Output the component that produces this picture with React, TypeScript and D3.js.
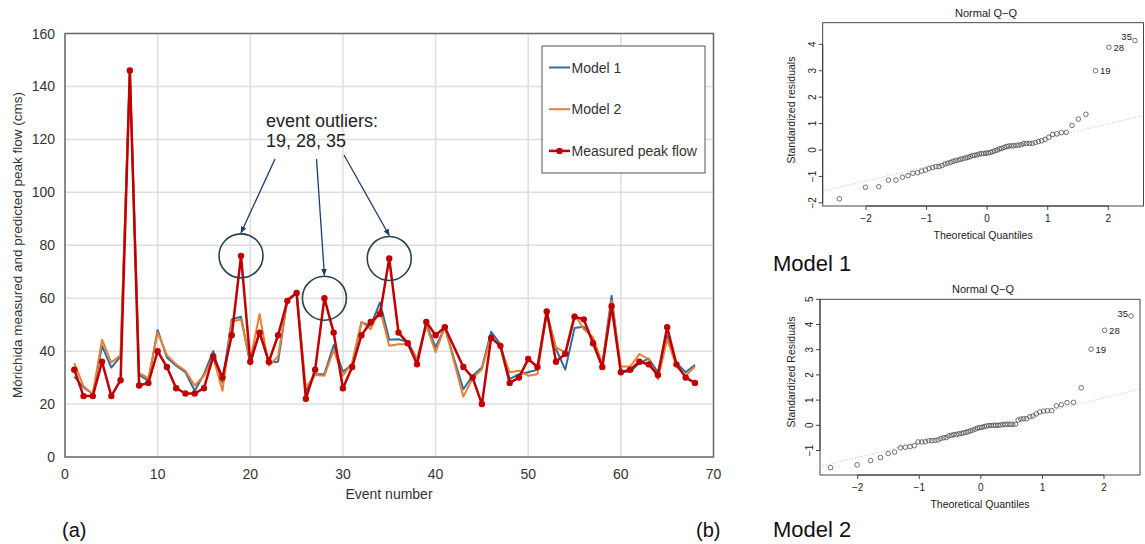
import React from "react";
import * as d3 from "d3";

// ---- Panel (a) data: event peak flows (cms), events 1..68 ----
const measured: (number | null)[] = [33, 23, 23, 36, 23, 29, 146, 27, 28, 40, 34, 26, 24, 24, 26, 38, 30, 46, 76, 36, 47, 36, 46, 59, 62, 22, 33, 60, 47, 26, 34, 46, 51, 54, 75, 47, 43, 35, 51, 46, 49, null, 34, 30, 20, 45, 42, 28, 30, 37, 34, 55, 36, 39, 53, 52, 43, 34, 57, 32, 33, 36, 35, 31, 49, 35, 30, 28];
const model1: number[] = [30.4, 26.3, 23.8, 42, 33.8, 38, 145, 31, 28.8, 48, 37.6, 34.5, 32, 25, 31.3, 40, 28.2, 52, 53, 35, 47.5, 35.7, 36, 59.6, 62, 24.7, 31.3, 31.3, 42.3, 32.2, 35, 50.8, 49.6, 58.4, 44.3, 44.5, 43.5, 37, 50.2, 41.4, 49, 37, 25.6, 30.7, 33.8, 47.3, 42.6, 29.4, 31.3, 32, 33, 54.6, 40.8, 33, 48.7, 49.2, 44.5, 35, 60.9, 32.2, 32.2, 35.5, 37.2, 32, 45.8, 35.5, 32, 34.8];
const model2: number[] = [35.5, 26.7, 23.8, 44.3, 35.7, 38.5, 146, 31.7, 29.8, 47, 38.5, 35, 32.6, 27, 30.7, 37.6, 25, 51.1, 52, 36.3, 54, 34.5, 38, 59.4, 62, 26.3, 31, 30.7, 40.4, 30.7, 35.7, 51.1, 48.3, 55.8, 42, 42.6, 42.6, 37, 49.6, 39.6, 49, 36, 22.8, 29.7, 33.2, 45.8, 41.4, 32, 32.6, 30.7, 31.3, 54.6, 41.4, 39.5, 54, 48.3, 45.2, 35, 59, 34.2, 34.2, 38.9, 37, 29.4, 44.5, 34.2, 30.7, 34.2];
const outlierEvents = [19, 28, 35];
const xTicksMain = [0, 10, 20, 30, 40, 50, 60, 70];
const yTicksMain = [0, 20, 40, 60, 80, 100, 120, 140, 160];
const legendLabels = ["Model 1", "Model 2", "Measured peak flow"];

// ---- Panel (b) data: Normal Q-Q (n = 68) ----
const theoreticalQ: number[] = [-2.44, -2.01, -1.79, -1.63, -1.505, -1.4, -1.307, -1.226, -1.15, -1.081, -1.018, -0.958, -0.901, -0.846, -0.795, -0.745, -0.697, -0.651, -0.606, -0.563, -0.521, -0.479, -0.438, -0.398, -0.358, -0.319, -0.28, -0.242, -0.204, -0.167, -0.13, -0.092, -0.055, -0.018, 0.018, 0.055, 0.092, 0.13, 0.167, 0.204, 0.242, 0.28, 0.319, 0.358, 0.398, 0.438, 0.479, 0.521, 0.563, 0.606, 0.651, 0.697, 0.745, 0.795, 0.846, 0.901, 0.958, 1.018, 1.081, 1.15, 1.226, 1.307, 1.4, 1.505, 1.63, 1.79, 2.01, 2.44];
const resid1: number[] = [-1.85, -1.41, -1.39, -1.14, -1.14, -1.03, -0.97, -0.88, -0.86, -0.8, -0.76, -0.7, -0.66, -0.63, -0.63, -0.59, -0.53, -0.5, -0.47, -0.43, -0.4, -0.38, -0.35, -0.33, -0.3, -0.28, -0.25, -0.21, -0.2, -0.18, -0.15, -0.14, -0.13, -0.12, -0.11, -0.09, -0.06, -0.03, 0.0, 0.04, 0.06, 0.1, 0.13, 0.15, 0.16, 0.16, 0.18, 0.18, 0.2, 0.24, 0.25, 0.25, 0.25, 0.28, 0.32, 0.35, 0.4, 0.48, 0.59, 0.61, 0.66, 0.67, 0.93, 1.17, 1.35, 3.0, 3.89, 4.14];
const resid2: number[] = [-1.68, -1.57, -1.4, -1.28, -1.12, -1.06, -0.89, -0.87, -0.85, -0.81, -0.66, -0.66, -0.65, -0.61, -0.61, -0.6, -0.58, -0.53, -0.49, -0.49, -0.42, -0.4, -0.37, -0.36, -0.34, -0.32, -0.3, -0.28, -0.25, -0.22, -0.19, -0.15, -0.11, -0.09, -0.08, -0.05, -0.03, -0.01, -0.01, 0.0, 0.0, 0.0, 0.01, 0.03, 0.03, 0.04, 0.04, 0.04, 0.04, 0.21, 0.25, 0.26, 0.26, 0.34, 0.37, 0.45, 0.53, 0.56, 0.58, 0.58, 0.77, 0.82, 0.9, 0.91, 1.49, 3.02, 3.77, 4.34];
const qqLabels = ["19", "28", "35"]; // the three largest residuals
const qqLine1 = { intercept: -0.09, slope: 0.54 };
const qqLine2 = { intercept: -0.09, slope: 0.59 };
const qqXTicks = [-2, -1, 0, 1, 2];
const qqYTicks1 = [-2, -1, 0, 1, 2, 3, 4];
const qqYTicks2 = [-1, 0, 1, 2, 3, 4, 5];
const QQ_TITLE = "Normal Q\u2212Q";

const FONT = "'Liberation Sans', Arial, Helvetica, sans-serif";
const C1 = "#2c6f9c";
const C2 = "#ED7D31";
const CR = "#C00000";

function MainChart() {
  const x = d3.scaleLinear().domain([0, 70]).range([65, 713.5]);
  const y = d3.scaleLinear().domain([0, 160]).range([457, 33.5]);
  const line = d3.line<[number, number]>().x((d) => x(d[0])).y((d) => y(d[1]));
  const m1: [number, number][] = model1.map((v, i) => [i + 1, v]);
  const m2: [number, number][] = model2.map((v, i) => [i + 1, v]);
  const ms: [number, number][] = measured
    .map((v, i) => [i + 1, v] as [number, number | null])
    .filter((d) => d[1] != null) as [number, number][];
  const [x0, x1] = x.range();
  const [y0, y1] = y.range();
  const annX = 266;
  const arrowStarts = [
    [275, 159],
    [316.5, 159],
    [344, 155],
  ];
  const R = 22;
  const lx = 542, ly = 46, lw = 163, lh = 127;
  const legendColors = [C1, C2, CR];
  return (
    <g fontFamily={FONT}>
      <defs>
        <marker id="arr" viewBox="0 0 10 10" refX="9" refY="5" markerWidth="7" markerHeight="7" orient="auto-start-reverse" markerUnits="userSpaceOnUse">
          <path d="M0,1 L10,5 L0,9 Z" fill="#1f3a6e" />
        </marker>
      </defs>
      {yTicksMain.map((t) => (
        <line key={"gy" + t} x1={x0} x2={x1} y1={y(t)} y2={y(t)} stroke="#dedede" strokeWidth={1.5} />
      ))}
      {xTicksMain.map((t) => (
        <line key={"gx" + t} x1={x(t)} x2={x(t)} y1={y0} y2={y1} stroke="#dedede" strokeWidth={1.5} />
      ))}
      <rect x={x0} y={y1} width={x1 - x0} height={y0 - y1} fill="none" stroke="#6b6b6b" strokeWidth={1.5} />
      {yTicksMain.map((t) => (
        <text key={"ty" + t} x={55} y={y(t) + 5} textAnchor="end" fontSize={14} fill="#333">{t}</text>
      ))}
      {xTicksMain.map((t) => (
        <text key={"tx" + t} x={x(t)} y={479} textAnchor="middle" fontSize={14} fill="#333">{t}</text>
      ))}
      <text x={389} y={499} textAnchor="middle" fontSize={14} fill="#333">Event number</text>
      <text transform={`translate(22,245) rotate(-90)`} textAnchor="middle" fontSize={13.5} fill="#333">Mórichida measured and predicted peak flow (cms)</text>
      <path d={line(m1) || ""} fill="none" stroke={C1} strokeWidth={2} strokeLinejoin="round" />
      <path d={line(m2) || ""} fill="none" stroke={C2} strokeWidth={2} strokeLinejoin="round" />
      <path d={line(ms) || ""} fill="none" stroke={CR} strokeWidth={2.5} strokeLinejoin="round" />
      {ms.map((d) => (
        <circle key={"p" + d[0]} cx={x(d[0])} cy={y(d[1])} r={3.2} fill={CR} />
      ))}
      {outlierEvents.map((e, i) => {
        const v = measured[e - 1] as number;
        const cx = x(e);
        const cy = y(v);
        return (
          <g key={"o" + e}>
            <circle cx={cx} cy={cy} r={R} fill="none" stroke="#2a3f4c" strokeWidth={1.6} />
            <line x1={arrowStarts[i][0]} y1={arrowStarts[i][1]} x2={cx} y2={cy - R - 1} stroke="#1f3a6e" strokeWidth={1.3} markerEnd="url(#arr)" />
          </g>
        );
      })}
      <text x={annX} y={127} fontSize={18} fill="#222">event outliers:</text>
      <text x={annX} y={147} fontSize={18} fill="#222">{outlierEvents.join(", ")}</text>
      <rect x={lx} y={ly} width={lw} height={lh} fill="#fff" stroke="#555" strokeWidth={1} />
      {legendLabels.map((lab, i) => {
        const yy = 67.5 + i * 41.7;
        return (
          <g key={lab}>
            <line x1={549} x2={570} y1={yy} y2={yy} stroke={legendColors[i]} strokeWidth={i === 2 ? 2.5 : 2} />
            {i === 2 && <circle cx={559.5} cy={yy} r={3.2} fill={CR} />}
            <text x={571.5} y={yy + 5} fontSize={14} fill="#333">{lab}</text>
          </g>
        );
      })}
      <text x={62} y={537} fontSize={20} fill="#111">(a)</text>
      <text x={696} y={537} fontSize={20} fill="#111">(b)</text>
    </g>
  );
}

type QQProps = {
  resid: number[];
  xr: [number, number];
  yd: [number, number];
  yr: [number, number];
  box: { l: number; r: number; t: number; b: number };
  yTicks: number[];
  qline: { intercept: number; slope: number };
  title: string;
  ylab: string;
  ylabY: number;
  labelMode: number;
  caption: string;
  captionY: number;
  id: string;
};

function QQ(p: QQProps) {
  const x = d3.scaleLinear().domain([-2, 2]).range(p.xr);
  const y = d3.scaleLinear().domain(p.yd).range(p.yr);
  const { l, r, t, b } = p.box;
  const xa = x.invert(l), xb = x.invert(r);
  const n = p.resid.length;
  const cx = (l + r) / 2;
  const fmt = (v: number) => (v < 0 ? "\u2212" + Math.abs(v) : String(v));
  return (
    <g fontFamily={FONT} fill="#222">
      <defs>
        <clipPath id={"clip" + p.id}>
          <rect x={l} y={t} width={r - l} height={b - t} />
        </clipPath>
      </defs>
      <text x={cx + 3} y={t - 6} textAnchor="middle" fontSize={11}>{p.title}</text>
      <rect x={l} y={t} width={r - l} height={b - t} fill="none" stroke="#333" strokeWidth={0.9} />
      <line clipPath={`url(#clip${p.id})`} x1={l} x2={r} y1={y(p.qline.intercept + p.qline.slope * xa)} y2={y(p.qline.intercept + p.qline.slope * xb)} stroke="#b5b5b5" strokeWidth={0.8} strokeDasharray="1.2,1.8" />
      <line x1={x(qqXTicks[0])} x2={x(qqXTicks[qqXTicks.length - 1])} y1={b} y2={b} stroke="#333" strokeWidth={0.9} />
      {qqXTicks.map((tk) => (
        <g key={"x" + tk}>
          <line x1={x(tk)} x2={x(tk)} y1={b} y2={b + 4} stroke="#333" strokeWidth={0.9} />
          <text x={x(tk)} y={b + 16} textAnchor="middle" fontSize={10}>{fmt(tk)}</text>
        </g>
      ))}
      <line x1={l} x2={l} y1={y(p.yTicks[0])} y2={y(p.yTicks[p.yTicks.length - 1])} stroke="#333" strokeWidth={0.9} />
      {p.yTicks.map((tk) => (
        <g key={"y" + tk}>
          <line x1={l - 4} x2={l} y1={y(tk)} y2={y(tk)} stroke="#333" strokeWidth={0.9} />
          <text transform={`translate(${l - 7},${y(tk)}) rotate(-90)`} textAnchor="middle" fontSize={10}>{fmt(tk)}</text>
        </g>
      ))}
      <text x={cx} y={b + 33} textAnchor="middle" fontSize={10.5}>Theoretical Quantiles</text>
      <text transform={`translate(795,${p.ylabY}) rotate(-90)`} textAnchor="middle" fontSize={10.5}>{p.ylab}</text>
      {p.resid.map((v, i) => (
        <circle key={"c" + i} cx={x(theoreticalQ[i])} cy={y(v)} r={2.3} fill="none" stroke="#444" strokeWidth={0.75} />
      ))}
      {qqLabels.map((lab, k) => {
        const i = n - 3 + k;
        const px = x(theoreticalQ[i]);
        const py = y(p.resid[i]);
        if (k === 2) {
          return <text key={lab} x={px - 3} y={py - (p.labelMode === 1 ? 1 : -1)} textAnchor="end" fontSize={9.5}>{lab}</text>;
        }
        return <text key={lab} x={px + 4.5} y={py + 3.5} fontSize={9.5}>{lab}</text>;
      })}
      <text x={773} y={p.captionY} fontSize={22} fill="#111">{p.caption}</text>
    </g>
  );
}

export default function App() {
  return (
    <svg width={1145} height={544} style={{ position: "absolute", left: 0, top: 0, background: "#fff" }}>
      <rect width={1145} height={544} fill="#fff" />
      <MainChart />
      <QQ
        id="q1"
        resid={resid1}
        xr={[866, 1108.3]}
        yd={[0, 4]}
        yr={[150, 44.3]}
        box={{ l: 822.7, r: 1143.5, t: 22.7, b: 206 }}
        yTicks={qqYTicks1}
        qline={qqLine1}
        title={QQ_TITLE}
        ylab="Standardized residuals"
        ylabY={110}
        labelMode={1}
        caption="Model 1"
        captionY={271}
      />
      <QQ
        id="q2"
        resid={resid2}
        xr={[857.7, 1104]}
        yd={[0, 5]}
        yr={[425.3, 299.3]}
        box={{ l: 820, r: 1140, t: 299.3, b: 475 }}
        yTicks={qqYTicks2}
        qline={qqLine2}
        title={QQ_TITLE}
        ylab="Standardized Residuals"
        ylabY={372}
        labelMode={2}
        caption="Model 2"
        captionY={537}
      />
    </svg>
  );
}
